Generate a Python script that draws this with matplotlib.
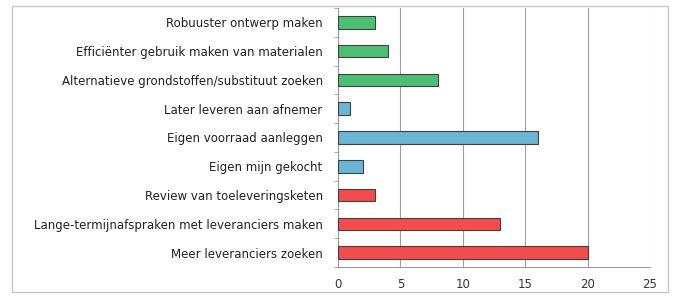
import matplotlib
matplotlib.use("Agg")
import matplotlib.pyplot as plt
from matplotlib.patches import Rectangle
from matplotlib.ticker import FixedLocator

categories = [
    "Robuuster ontwerp maken",
    "Efficiënter gebruik maken van materialen",
    "Alternatieve grondstoffen/substituut zoeken",
    "Later leveren aan afnemer",
    "Eigen voorraad aanleggen",
    "Eigen mijn gekocht",
    "Review van toeleveringsketen",
    "Lange-termijnafspraken met leveranciers maken",
    "Meer leveranciers zoeken",
]
values = [3, 4, 8, 1, 16, 2, 3, 13, 20]
colors = ["#4dbf74", "#4dbf74", "#4dbf74",
          "#6cb4d6", "#6cb4d6", "#6cb4d6",
          "#f24c4c", "#f24c4c", "#f24c4c"]
xticks = [0, 5, 10, 15, 20, 25]

plt.rcParams['font.family'] = ['DejaVu Sans']
fig = plt.figure(figsize=(6.73, 2.98), dpi=100)
fig.patches.append(Rectangle((12/673, 6/298), 656/673, 286/298, transform=fig.transFigure,
                             fill=False, edgecolor="#c8c8c8", linewidth=1.0))
ax = fig.add_axes([338/673, 1-267/298, 312/673, 259/298])

n = len(categories)
ypos = list(range(n))
ax.barh(ypos, values, height=0.44, color=colors, edgecolor="#404040", linewidth=0.8, zorder=3)
ax.set_ylim(n - 0.5, -0.5)
ax.set_xlim(0, 25)
ax.set_xticks(xticks)
ax.set_xticklabels([str(t) for t in xticks], fontsize=8.5, color="#333333")
ax.set_yticks(ypos)
ax.set_yticklabels(categories, fontsize=8.5, color="#222222")
ax.tick_params(axis='y', length=0, pad=11)
ax.yaxis.set_minor_locator(FixedLocator([i - 0.5 for i in range(n + 1)]))
ax.tick_params(axis='y', which='minor', length=3, color="#999999", direction='out')
ax.tick_params(axis='x', length=0, pad=8)
ax.grid(axis='x', color="#a0a0a0", linewidth=0.8, zorder=0)
for s in ['top', 'right']:
    ax.spines[s].set_visible(False)
ax.spines['left'].set_color("#999999")
ax.spines['bottom'].set_color("#999999")
fig.savefig("out.png", dpi=100)
